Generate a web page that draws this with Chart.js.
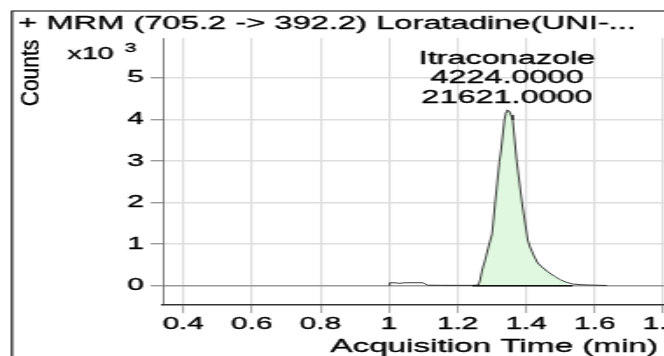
<!DOCTYPE html>
<html><head><meta charset="utf-8">
<script src="https://cdn.jsdelivr.net/npm/chart.js@4.4.1/dist/chart.umd.min.js"></script>
<style>
html,body{margin:0;padding:0;width:664px;height:356px;overflow:hidden;background:#fff}
#wrap{position:absolute;left:0;top:0;width:400px;height:356px;transform:scaleX(1.75);transform-origin:0 0}
</style></head><body>
<div id="wrap"><canvas id="c"></canvas></div>
<script>
const titleText = '+ MRM (705.2 -> 392.2) Loratadine(UNI-...';
const xAxisTitle = 'Acquisition Time (min)';
const yAxisTitle = 'Counts';
const yMultiplier = ['x10', '3'];
const compoundName = 'Itraconazole';
const peakHeightLabel = '4224.0000';
const peakAreaLabel = '21621.0000';
const peakTime = 1.344;
const peakHeight = 4224;

const xTicks = [0.4, 0.6, 0.8, 1.0, 1.2, 1.4, 1.6, 1.8];
const xTickLabels = ['0.4', '0.6', '0.8', '1', '1.2', '1.4', '1.6', '1.8'];
const yTicks = [0, 1000, 2000, 3000, 4000, 5000];
const yTickLabels = ['0', '1', '2', '3', '4', '5'];

const traceTime = [1.000, 1.002, 1.020, 1.030, 1.045, 1.070, 1.100, 1.112, 1.150, 1.200, 1.243,
  1.2606, 1.2656, 1.2715, 1.2802, 1.2889, 1.3006, 1.3093, 1.3218, 1.3267, 1.3363, 1.3410, 1.3442,
  1.3500, 1.3558, 1.3607, 1.3724, 1.3878, 1.4044, 1.4111, 1.4227, 1.4334, 1.4459, 1.4625,
  1.4808, 1.5012, 1.5186, 1.5352, 1.5600, 1.5826, 1.6100, 1.6350];
const traceCounts = [5, 72, 68, 56, 70, 72, 70, 12, 9, 7, 8,
  17, 137, 377, 618, 900, 1250, 1988, 2981, 3262, 3983, 4170, 4224,
  4200, 4103, 3983, 2981, 1988, 1099, 930, 714, 546, 450, 337,
  233, 137, 77, 41, 24, 17, 10, 5];
const integrationWindow = [1.243, 1.535];

const xMin = 0.341, xMax = 1.9026;
const yMin = -464, yMax = 5954;

const FONT = "'Liberation Sans', Arial, sans-serif";
Chart.defaults.font.family = FONT;

const tracePts = traceTime.map((t, i) => ({x: t, y: traceCounts[i]}));
const fillPts = tracePts.filter(p => p.x >= integrationWindow[0] && p.x <= integrationWindow[1]);
const basePts = integrationWindow.map(t => ({x: t, y: 0}));

function txt(c, s, x, y) {
  c.strokeText(s, x, y);
  c.fillText(s, x, y);
}

const decor = {
  id: 'decor',
  beforeDraw(chart) {
    const c = chart.ctx;
    c.save();
    c.fillStyle = '#fff';
    c.fillRect(0, 0, chart.width, chart.height);
    c.strokeStyle = '#000';
    c.lineWidth = 1.1;
    c.beginPath();
    c.moveTo(6.86, 356); c.lineTo(6.86, 11); c.lineTo(chart.width, 11);
    c.stroke();
    c.restore();
  },
  afterDraw(chart) {
    const c = chart.ctx;
    const xs = chart.scales.x;
    c.save();
    c.fillStyle = '#000';
    c.strokeStyle = '#000';
    c.lineWidth = 0.35;
    c.lineJoin = 'round';
    c.textBaseline = 'alphabetic';
    // title
    c.font = '18.7px ' + FONT;
    c.textAlign = 'left';
    txt(c, titleText, 10.3, 28.5);
    // multiplier
    c.font = '16.5px ' + FONT;
    txt(c, yMultiplier[0], 38.4, 58.5);
    c.font = '12px ' + FONT;
    txt(c, yMultiplier[1], 71.2, 52);
    // Counts (rotated, condensed)
    c.save();
    c.translate(17.6, 73);
    c.rotate(-Math.PI / 2);
    c.scale(1, 0.68);
    c.font = '21px ' + FONT;
    c.textAlign = 'center';
    c.textBaseline = 'middle';
    txt(c, yAxisTitle, 0, 0);
    c.restore();
    // x axis title
    c.font = '19px ' + FONT;
    c.textAlign = 'right';
    txt(c, xAxisTitle, 376, 351.5);
    // peak annotation
    const px = xs.getPixelForValue(peakTime);
    c.font = '18.5px ' + FONT;
    c.textAlign = 'center';
    txt(c, compoundName, px, 63.5);
    txt(c, peakHeightLabel, px, 83);
    txt(c, peakAreaLabel, px, 103);
    c.restore();
  }
};

new Chart(document.getElementById('c'), {
  type: 'line',
  data: {
    datasets: [
      {data: tracePts, borderColor: '#1a1a1a', borderWidth: 0.85, pointRadius: 0, fill: false, tension: 0},
      {data: basePts, borderColor: '#111', borderWidth: 1.6, pointRadius: 0, fill: false},
      {data: fillPts, borderWidth: 0, borderColor: 'rgba(0,0,0,0)', backgroundColor: '#dff8df', pointRadius: 0, fill: 'origin', tension: 0}
    ]
  },
  options: {
    responsive: true,
    maintainAspectRatio: false,
    animation: false,
    events: [],
    layout: {padding: {left: 10, top: 38, right: 0, bottom: 0}},
    plugins: {legend: {display: false}, tooltip: {enabled: false}, title: {display: false}},
    scales: {
      x: {
        type: 'linear', min: xMin, max: xMax,
        afterBuildTicks: s => { s.ticks = xTicks.map(v => ({value: v})); },
        afterFit: s => { s.height = 51; s.paddingLeft = 0; s.paddingRight = 0; },
        ticks: {callback: (v, i) => xTickLabels[i], font: {size: 17}, color: '#000', padding: 1, maxRotation: 0, autoSkip: false, textStrokeColor: '#000', textStrokeWidth: 0.35},
        grid: {color: '#dcdcdc', lineWidth: 1.2, drawTicks: true, tickLength: 8, tickColor: '#777', tickWidth: 0.7},
        border: {display: true, color: '#333', width: 1.5}
      },
      y: {
        type: 'linear', min: yMin, max: yMax,
        afterBuildTicks: s => { s.ticks = yTicks.map(v => ({value: v})); },
        afterFit: s => { s.width = 83.14; s.paddingTop = 0; s.paddingBottom = 0; },
        ticks: {callback: (v, i) => yTickLabels[i], font: {size: 17}, color: '#000', padding: 4, autoSkip: false, textStrokeColor: '#000', textStrokeWidth: 0.35},
        grid: {color: ctx => (ctx.tick && ctx.tick.value === 0) ? '#9a9a9a' : '#dedede', lineWidth: 1.5, drawTicks: true, tickLength: 7, tickColor: '#888', tickWidth: 1.2},
        border: {display: true, color: '#444', width: 0.7}
      }
    }
  },
  plugins: [decor]
});
</script>
</body></html>
